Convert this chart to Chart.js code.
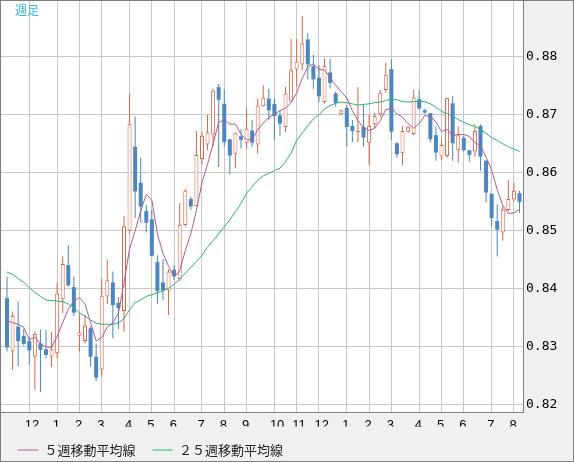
<!DOCTYPE html>
<html>
<head>
<meta charset="utf-8">
<script src="https://cdn.jsdelivr.net/npm/chart.js@4/dist/chart.umd.min.js"></script>
<style>
    html, body { margin: 0; padding: 0; background: #f0f0f0; }
    #quadro { position: relative; width: 574px; height: 462px; }
    #periodo { position: absolute; left: 15px; top: 3px; font: 12px "Noto Sans CJK JP"; line-height: 14px; color: #3cb4e6; }
</style>
</head>
<body>
<div id="quadro">
    <canvas id="GraficoSemanal" width="574" height="462"></canvas>
    <div id="periodo">週足</div>
</div>
<script>
// weekly candles, index 0 = first week shown
var opens = [0.8383, 0.8291, 0.8334, 0.8318, 0.8309, 0.8282, 0.8305, 0.8295, 0.8282, 0.8288,
    0.8381, 0.8440, 0.8402, 0.8318, 0.8309, 0.8331, 0.8282, 0.8260, 0.8386, 0.8410,
    0.8375, 0.8361, 0.8499, 0.8644, 0.8582, 0.8533, 0.8519, 0.8445, 0.8410, 0.8396,
    0.8432, 0.8416, 0.8509, 0.8554, 0.8542, 0.8623, 0.8648, 0.8665, 0.8747, 0.8718,
    0.8657, 0.8632, 0.8662, 0.8651, 0.8672, 0.8648, 0.8714, 0.8727, 0.8718, 0.8698,
    0.8678, 0.8722, 0.8777, 0.8786, 0.8829, 0.8783, 0.8763, 0.8721, 0.8772, 0.8736,
    0.8700, 0.8711, 0.8680, 0.8669, 0.8678, 0.8651, 0.8683, 0.8700, 0.8742, 0.8778,
    0.8650, 0.8633, 0.8670, 0.8666, 0.8726, 0.8707, 0.8702, 0.8664, 0.8627, 0.8628,
    0.8719, 0.8638, 0.8659, 0.8638, 0.8636, 0.8680, 0.8620, 0.8563, 0.8516, 0.8496,
    0.8535, 0.8553, 0.8564];
var highs = [0.8420, 0.8360, 0.8377, 0.8330, 0.8316, 0.8325, 0.8329, 0.8328, 0.8325, 0.8409,
    0.8455, 0.8474, 0.8420, 0.8357, 0.8354, 0.8334, 0.8305, 0.8417, 0.8449, 0.8429,
    0.8385, 0.8525, 0.8735, 0.8696, 0.8625, 0.8544, 0.8535, 0.8457, 0.8450, 0.8433,
    0.8440, 0.8547, 0.8571, 0.8558, 0.8671, 0.8670, 0.8699, 0.8744, 0.8752, 0.8743,
    0.8657, 0.8668, 0.8674, 0.8711, 0.8690, 0.8727, 0.8750, 0.8744, 0.8727, 0.8707,
    0.8747, 0.8830, 0.8830, 0.8870, 0.8840, 0.8802, 0.8785, 0.8796, 0.8796, 0.8739,
    0.8708, 0.8716, 0.8690, 0.8747, 0.8716, 0.8699, 0.8702, 0.8742, 0.8789, 0.8795,
    0.8652, 0.8680, 0.8680, 0.8742, 0.8742, 0.8710, 0.8702, 0.8679, 0.8656, 0.8728,
    0.8732, 0.8679, 0.8663, 0.8638, 0.8683, 0.8683, 0.8620, 0.8563, 0.8545, 0.8541,
    0.8587, 0.8582, 0.8568];
var lows = [0.8291, 0.8259, 0.8266, 0.8301, 0.8268, 0.8225, 0.8221, 0.8279, 0.8264, 0.8279,
    0.8357, 0.8403, 0.8352, 0.8291, 0.8305, 0.8265, 0.8240, 0.8248, 0.8373, 0.8314,
    0.8330, 0.8325, 0.8495, 0.8521, 0.8512, 0.8496, 0.8455, 0.8373, 0.8380, 0.8354,
    0.8414, 0.8412, 0.8507, 0.8535, 0.8541, 0.8613, 0.8638, 0.8645, 0.8609, 0.8645,
    0.8596, 0.8607, 0.8641, 0.8641, 0.8644, 0.8632, 0.8713, 0.8690, 0.8656, 0.8662,
    0.8670, 0.8721, 0.8747, 0.8776, 0.8760, 0.8744, 0.8721, 0.8718, 0.8745, 0.8713,
    0.8699, 0.8644, 0.8652, 0.8652, 0.8644, 0.8613, 0.8676, 0.8695, 0.8738, 0.8656,
    0.8625, 0.8613, 0.8668, 0.8664, 0.8708, 0.8701, 0.8652, 0.8620, 0.8621, 0.8625,
    0.8620, 0.8617, 0.8636, 0.8618, 0.8627, 0.8603, 0.8548, 0.8506, 0.8455, 0.8482,
    0.8533, 0.8550, 0.8530];
var closes = [0.8298, 0.8352, 0.8309, 0.8304, 0.8293, 0.8321, 0.8294, 0.8285, 0.8295, 0.8391,
    0.8442, 0.8405, 0.8358, 0.8324, 0.8336, 0.8282, 0.8246, 0.8387, 0.8414, 0.8371,
    0.8366, 0.8507, 0.8683, 0.8567, 0.8541, 0.8513, 0.8456, 0.8395, 0.8396, 0.8429,
    0.8421, 0.8510, 0.8568, 0.8541, 0.8630, 0.8663, 0.8669, 0.8741, 0.8725, 0.8652,
    0.8629, 0.8668, 0.8656, 0.8675, 0.8651, 0.8715, 0.8729, 0.8707, 0.8697, 0.8684,
    0.8736, 0.8776, 0.8791, 0.8822, 0.8786, 0.8760, 0.8731, 0.8783, 0.8754, 0.8720,
    0.8707, 0.8678, 0.8671, 0.8671, 0.8660, 0.8680, 0.8697, 0.8737, 0.8768, 0.8670,
    0.8631, 0.8671, 0.8679, 0.8729, 0.8710, 0.8703, 0.8657, 0.8634, 0.8647, 0.8728,
    0.8650, 0.8664, 0.8638, 0.8630, 0.8671, 0.8627, 0.8565, 0.8521, 0.8501, 0.8536,
    0.8554, 0.8568, 0.8549];
var ma5 = [0.8344, 0.8341, 0.8338, 0.8333, 0.8311, 0.8316, 0.8304, 0.8299, 0.8298, 0.8317,
    0.8341, 0.8364, 0.8378, 0.8384, 0.8373, 0.8341, 0.8309, 0.8315, 0.8333, 0.8340,
    0.8357, 0.8409, 0.8468, 0.8499, 0.8533, 0.8562, 0.8552, 0.8494, 0.8460, 0.8438,
    0.8419, 0.8430, 0.8465, 0.8494, 0.8534, 0.8582, 0.8614, 0.8649, 0.8686, 0.8690,
    0.8683, 0.8683, 0.8666, 0.8656, 0.8656, 0.8673, 0.8685, 0.8695, 0.8700, 0.8706,
    0.8711, 0.8720, 0.8737, 0.8762, 0.8782, 0.8787, 0.8778, 0.8776, 0.8763, 0.8750,
    0.8739, 0.8728, 0.8706, 0.8689, 0.8677, 0.8672, 0.8676, 0.8689, 0.8708, 0.8710,
    0.8701, 0.8695, 0.8684, 0.8676, 0.8684, 0.8698, 0.8696, 0.8687, 0.8670, 0.8674,
    0.8663, 0.8665, 0.8665, 0.8662, 0.8651, 0.8646, 0.8626, 0.8604, 0.8570, 0.8543,
    0.8529, 0.8530, 0.8536];
var ma25 = [0.8428, 0.8424, 0.8417, 0.8410, 0.8401, 0.8393, 0.8386, 0.8380, 0.8379, 0.8378,
    0.8377, 0.8373, 0.8366, 0.8358, 0.8352, 0.8345, 0.8340, 0.8338, 0.8338, 0.8338,
    0.8340, 0.8348, 0.8363, 0.8375, 0.8380, 0.8386, 0.8389, 0.8392, 0.8396, 0.8400,
    0.8407, 0.8416, 0.8426, 0.8436, 0.8446, 0.8457, 0.8471, 0.8482, 0.8494, 0.8506,
    0.8518, 0.8532, 0.8546, 0.8564, 0.8575, 0.8586, 0.8594, 0.8598, 0.8603, 0.8607,
    0.8618, 0.8633, 0.8655, 0.8668, 0.8680, 0.8692, 0.8699, 0.8709, 0.8715, 0.8719,
    0.8721, 0.8720, 0.8718, 0.8716, 0.8717, 0.8718, 0.8720, 0.8721, 0.8724, 0.8726,
    0.8725, 0.8722, 0.8721, 0.8722, 0.8722, 0.8722, 0.8718, 0.8712, 0.8705, 0.8701,
    0.8697, 0.8691, 0.8686, 0.8682, 0.8679, 0.8674, 0.8667, 0.8660, 0.8655, 0.8649,
    0.8644, 0.8640, 0.8636];

// first week of each month (index into the arrays above) and its label
var monthTicks = [4, 9, 13, 17, 22, 26, 30, 35, 39, 43, 48, 52, 56, 61, 65, 69, 74, 78, 82, 87, 91];
var monthLabels = ['12', '1', '2', '3', '4', '5', '6', '7', '8', '9', '10', '11', '12', '1', '2', '3', '4', '5', '6', '7', '8'];
var priceTicks = [0.82, 0.83, 0.84, 0.85, 0.86, 0.87, 0.88];

var legendNames = ['５週移動平均線', '２５週移動平均線'];

var corAlta = '#dc6446';
var corBaixa = '#4b87be';

function CandleBodies(up) {
    var data = [];
    var i = 0;
    while (i < closes.length) {
        if ((closes[i] >= opens[i]) === up) {
            data.push({ x: i, y: [opens[i], closes[i]] });
        }
        i++;
    }
    return data;
}

function CandleWicks(up) {
    var data = [];
    var i = 0;
    while (i < closes.length) {
        if ((closes[i] >= opens[i]) === up) {
            data.push({ x: i, y: [lows[i], highs[i]] });
        }
        i++;
    }
    return data;
}

function LinePoints(valores) {
    var pontos = [];
    var i = 0;
    while (i < valores.length) {
        pontos.push({ x: i, y: valores[i] });
        i++;
    }
    return pontos;
}

var moldura = {
    id: 'moldura',
    beforeDraw: function (chart) {
        var c = chart.ctx;
        var a = chart.chartArea;
        c.save();
        c.fillStyle = '#f0f0f0';
        c.fillRect(0, 0, chart.width, chart.height);
        c.fillStyle = '#ffffff';
        c.fillRect(a.left, a.top, a.right - a.left, a.bottom - a.top);
        c.restore();
    },
    afterDraw: function (chart) {
        var c = chart.ctx;
        c.save();
        c.strokeStyle = '#7f7f7f';
        c.lineWidth = 1;
        c.strokeRect(0.5, 0.5, chart.width - 1, chart.height - 1);
        c.restore();
    }
};

var ctx = document.getElementById('GraficoSemanal').getContext('2d');

var grafico = new Chart(ctx, {
    type: 'bar',
    data: {
        datasets: [{
            type: 'line',
            label: legendNames[0],
            data: LinePoints(ma5),
            borderColor: '#b45a8c',
            borderWidth: 1,
            pointRadius: 0,
            order: 0
        }, {
            type: 'line',
            label: legendNames[1],
            data: LinePoints(ma25),
            borderColor: '#2ab46e',
            borderWidth: 1,
            pointRadius: 0,
            order: 0
        }, {
            label: 'up',
            data: CandleBodies(true),
            backgroundColor: '#ffffff',
            borderColor: corAlta,
            borderWidth: 1,
            borderSkipped: false,
            barThickness: 4,
            grouped: false,
            inflateAmount: 0,
            order: 1
        }, {
            label: 'down',
            data: CandleBodies(false),
            backgroundColor: corBaixa,
            borderWidth: 0,
            barThickness: 4,
            grouped: false,
            inflateAmount: 0,
            order: 1
        }, {
            label: 'up wick',
            data: CandleWicks(true),
            backgroundColor: corAlta,
            borderWidth: 0,
            barThickness: 1,
            grouped: false,
            inflateAmount: 0,
            order: 2
        }, {
            label: 'down wick',
            data: CandleWicks(false),
            backgroundColor: corBaixa,
            borderWidth: 0,
            barThickness: 1,
            grouped: false,
            inflateAmount: 0,
            order: 2
        }]
    },
    options: {
        responsive: false,
        animation: false,
        layout: { padding: { left: 1, top: 1, right: 0, bottom: 0 } },
        plugins: {
            legend: {
                position: 'bottom',
                align: 'start',
                maxHeight: 35.5,
                labels: {
                    filter: function (item) { return item.datasetIndex < 2; },
                    usePointStyle: true,
                    pointStyle: 'line',
                    pointStyleWidth: 20,
                    padding: 17,
                    color: '#222',
                    font: { family: 'Noto Sans CJK JP', size: 13 }
                }
            },
            tooltip: { enabled: false }
        },
        scales: {
            x: {
                type: 'linear',
                min: -1.08,
                max: 92.63,
                offset: false,
                afterBuildTicks: function (scale) {
                    scale.ticks = monthTicks.map(function (v) { return { value: v }; });
                },
                afterFit: function (scale) {
                    scale.height = 14.5;
                    scale.paddingLeft = 0;
                    scale.paddingRight = 0;
                },
                ticks: {
                    callback: function (v) { return monthLabels[monthTicks.indexOf(v)]; },
                    align: 'start',
                    labelOffset: -4.5,
                    padding: 6,
                    maxRotation: 0,
                    autoSkip: false,
                    color: '#000',
                    font: { family: 'Liberation Sans', size: 13 }
                },
                grid: { color: '#c8c8c8', drawTicks: false, offset: false },
                border: { color: '#7f7f7f' }
            },
            y: {
                position: 'right',
                min: 0.81867,
                max: 0.88953,
                afterBuildTicks: function (scale) {
                    scale.ticks = priceTicks.map(function (v) { return { value: v }; });
                },
                afterFit: function (scale) {
                    scale.width = 51;
                    scale.paddingTop = 0;
                    scale.paddingBottom = 0;
                },
                ticks: {
                    callback: function (v) { return v.toFixed(2); },
                    padding: 3,
                    color: '#000',
                    font: { family: 'DejaVu Sans Mono', size: 13 }
                },
                grid: { color: '#c8c8c8', drawTicks: false },
                border: { color: '#7f7f7f' }
            }
        }
    },
    plugins: [moldura]
});
</script>
</body>
</html>
